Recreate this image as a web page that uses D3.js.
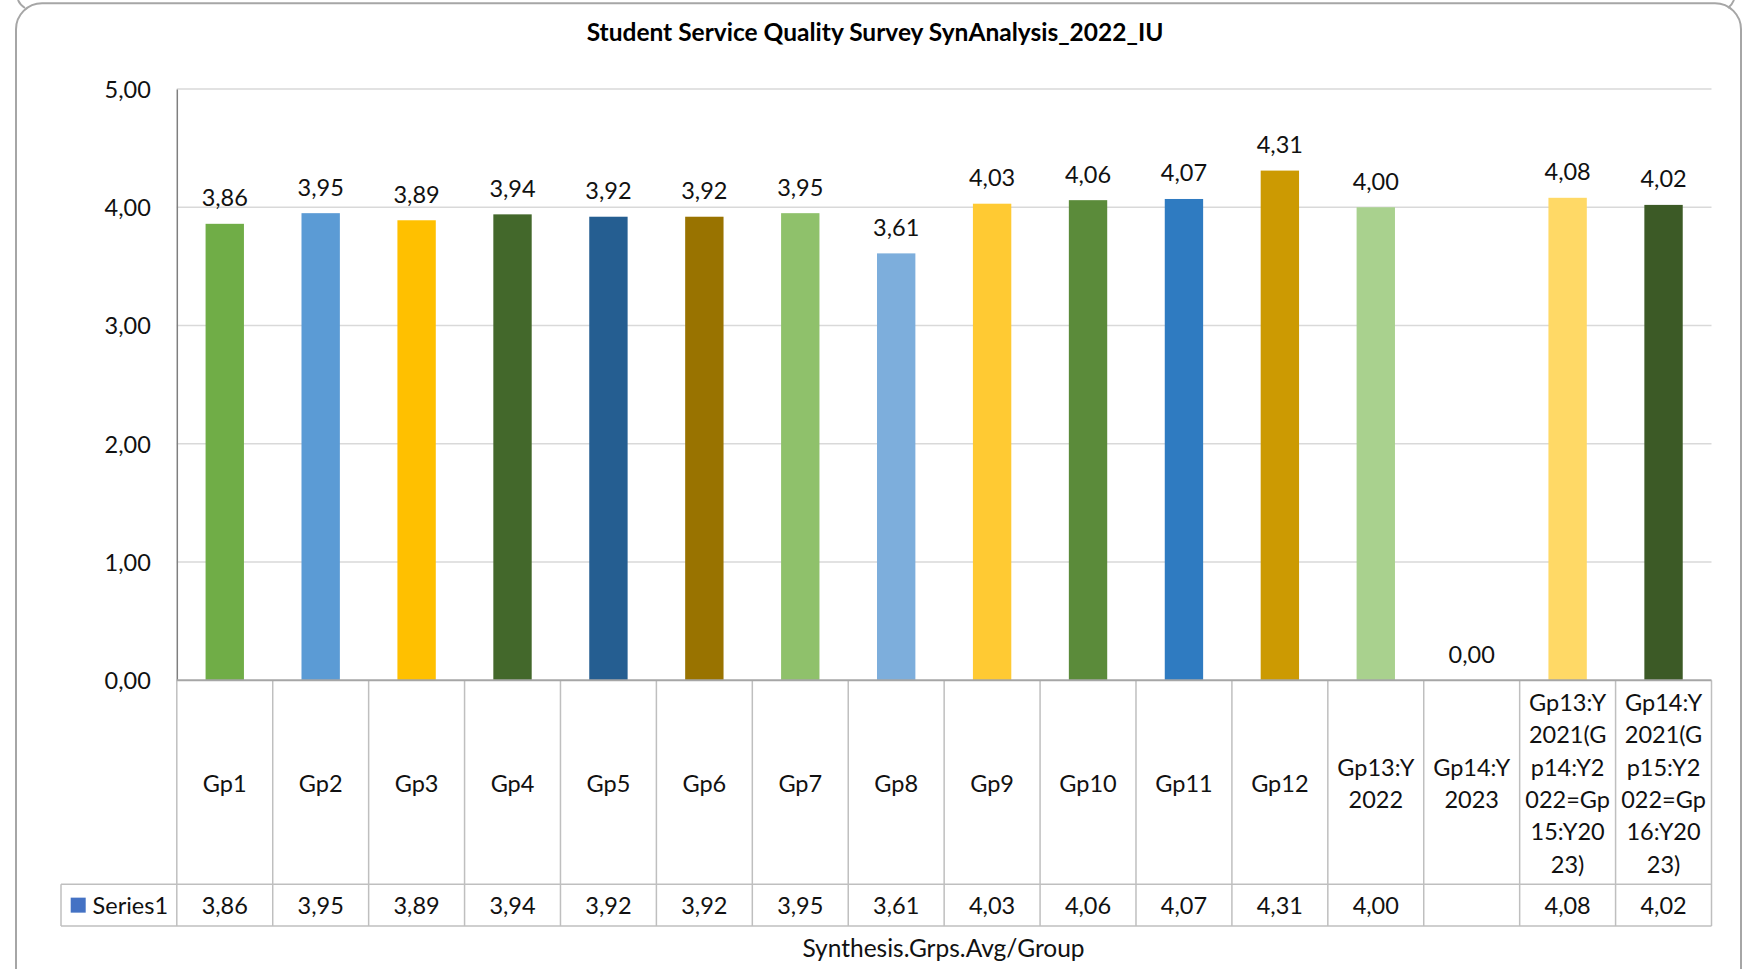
<!DOCTYPE html>
<html>
<head>
<meta charset="utf-8">
<script src="https://cdn.jsdelivr.net/npm/d3@7"></script>
<style>
  html, body { margin: 0; padding: 0; background: #ffffff; }
  svg { display: block; font-family: Lato, "Noto Sans", sans-serif; }
</style>
</head>
<body>
<svg id="chart" width="1757" height="969"></svg>
<script>
// Group averages from the synthesis sheet
const categories = [
  "Gp1", "Gp2", "Gp3", "Gp4", "Gp5", "Gp6", "Gp7", "Gp8", "Gp9", "Gp10", "Gp11", "Gp12",
  "Gp13:Y2022", "Gp14:Y2023",
  "Gp13:Y2021(Gp14:Y2022=Gp15:Y2023)",
  "Gp14:Y2021(Gp15:Y2022=Gp16:Y2023)"
];
const seriesName = "Series1";
const values = [3.86, 3.95, 3.89, 3.94, 3.92, 3.92, 3.95, 3.61, 4.03, 4.06, 4.07, 4.31, 4.00, null, 4.08, 4.02];
const barColors = [
  "#70AD47", "#5B9BD5", "#FFC000", "#43682B", "#255E91", "#997300", "#8FC16B", "#7DAEDC",
  "#FFCA33", "#5B8B3A", "#2F7BC1", "#CC9A02", "#A9D18E", "#A5A5A5", "#FFD966", "#3C5A26"
];
const yTicks = [0, 1, 2, 3, 4, 5];
const chartTitle = "Student Service Quality Survey SynAnalysis_2022_IU";
const axisTitle = "Synthesis.Grps.Avg/Group";

const locale = d3.formatLocale({ decimal: ",", thousands: ".", grouping: [3], currency: ["", ""] });
const fmt = locale.format(".2f");

const svg = d3.select("#chart");
const textColor = "#111";

// Plot area and table geometry
const plotLeft = 176.8, plotRight = 1711.5;
const plotTop = 89, plotBottom = 680.3;
const catRowBottom = 884.3, tableBottom = 926;
const legendLeft = 61;

const x = d3.scaleBand().domain(categories).range([plotLeft, plotRight]).paddingInner(0.6).paddingOuter(0.3);
const y = d3.scaleLinear().domain([0, 5]).range([plotBottom, plotTop]);
const step = x.step();
const cellLeft = c => x(c) - x.paddingOuter() * step;

// Chart frame with rounded top corners
svg.append("rect")
  .attr("x", 16).attr("y", 3.3).attr("width", 1725).attr("height", 1040)
  .attr("rx", 26).attr("ry", 26)
  .attr("fill", "#fff").attr("stroke", "#A6A6A6").attr("stroke-width", 2);
svg.append("path").attr("d", "M18,0 Q20,5 25,8").attr("fill", "none").attr("stroke", "#A6A6A6").attr("stroke-width", 2);
svg.append("path").attr("d", "M1734,0 Q1732,5 1728,8").attr("fill", "none").attr("stroke", "#A6A6A6").attr("stroke-width", 2);

// Title
svg.append("text")
  .attr("x", 875).attr("y", 31.7).attr("dy", "0.36em")
  .attr("text-anchor", "middle")
  .attr("font-size", 24.5).attr("font-weight", "bold").attr("fill", "#000")
  .text(chartTitle);

// Gridlines
svg.append("g")
  .selectAll("line").data(yTicks.filter(t => t > 0)).join("line")
  .attr("x1", plotLeft).attr("x2", plotRight)
  .attr("y1", d => y(d)).attr("y2", d => y(d))
  .attr("stroke", "#D9D9D9").attr("stroke-width", 1.5);

// Y axis
const yAxis = svg.append("g")
  .attr("transform", `translate(${plotLeft},0)`)
  .call(d3.axisLeft(y).tickValues(yTicks).tickFormat(fmt).tickSize(0).tickPadding(26));
yAxis.select(".domain").attr("stroke", "#7F7F7F").attr("stroke-width", 1.5);
yAxis.selectAll("text")
  .attr("font-size", 23.5).attr("fill", textColor)
  .attr("font-family", "Lato, 'Noto Sans', sans-serif")
  .attr("dy", "0.36em");

// Bars
svg.append("g")
  .selectAll("rect").data(categories).join("rect")
  .attr("x", d => x(d))
  .attr("width", x.bandwidth())
  .attr("y", (d, i) => y(values[i] ?? 0))
  .attr("height", (d, i) => y(0) - y(values[i] ?? 0))
  .attr("fill", (d, i) => barColors[i]);

// Data labels above bars
svg.append("g")
  .selectAll("text").data(categories).join("text")
  .attr("x", d => x(d) + x.bandwidth() / 2)
  .attr("y", (d, i) => y(values[i] ?? 0) - 26)
  .attr("dy", "0.36em")
  .attr("text-anchor", "middle")
  .attr("font-size", 23.5).attr("fill", textColor)
  .text((d, i) => fmt(values[i] ?? 0));

// Data table: grid lines
const tableColor = "#BFBFBF";
const tbl = svg.append("g");
// vertical separators between categories
const edges = categories.map(c => cellLeft(c)).concat([plotRight]);
tbl.selectAll("line.v").data(edges).join("line")
  .attr("class", "v")
  .attr("x1", d => d).attr("x2", d => d)
  .attr("y1", plotBottom).attr("y2", tableBottom)
  .attr("stroke", tableColor).attr("stroke-width", 1.5);
// horizontal rules
tbl.selectAll("line.h").data([catRowBottom, tableBottom]).join("line")
  .attr("class", "h")
  .attr("x1", legendLeft).attr("x2", plotRight)
  .attr("y1", d => d).attr("y2", d => d)
  .attr("stroke", tableColor).attr("stroke-width", 1.5);
tbl.append("line")
  .attr("x1", legendLeft).attr("x2", legendLeft)
  .attr("y1", catRowBottom).attr("y2", tableBottom)
  .attr("stroke", tableColor).attr("stroke-width", 1.5);

// X axis baseline
svg.append("line")
  .attr("x1", plotLeft).attr("x2", plotRight)
  .attr("y1", y(0)).attr("y2", y(0))
  .attr("stroke", "#A6A6A6").attr("stroke-width", 2);

// Category labels, wrapped into six-character lines
const wrap = s => s.match(/.{1,6}/g);
const lineH = 32.3;
const catMid = (plotBottom + catRowBottom) / 2 + 1;
tbl.selectAll("text.cat").data(categories).join("text")
  .attr("class", "cat")
  .attr("text-anchor", "middle")
  .attr("font-size", 23.5).attr("fill", textColor)
  .each(function (d) {
    const lines = wrap(d);
    const t = d3.select(this);
    const cx = x(d) + x.bandwidth() / 2;
    lines.forEach((ln, k) => {
      t.append("tspan")
        .attr("x", cx)
        .attr("y", catMid + (k - (lines.length - 1) / 2) * lineH)
        .attr("dy", "0.36em")
        .text(ln);
    });
  });

// Value row
const valMid = (catRowBottom + tableBottom) / 2;
tbl.selectAll("text.val").data(categories).join("text")
  .attr("class", "val")
  .attr("x", d => x(d) + x.bandwidth() / 2)
  .attr("y", valMid).attr("dy", "0.36em")
  .attr("text-anchor", "middle")
  .attr("font-size", 23.5).attr("fill", textColor)
  .text((d, i) => values[i] == null ? "" : fmt(values[i]));

// Legend key in the table
tbl.append("rect")
  .attr("x", 70.7).attr("y", valMid - 7.5).attr("width", 15).attr("height", 15)
  .attr("fill", "#4472C4");
tbl.append("text")
  .attr("x", 92.6).attr("y", valMid).attr("dy", "0.36em")
  .attr("font-size", 23.5).attr("fill", textColor)
  .text(seriesName);

// Axis title
svg.append("text")
  .attr("x", 943.5).attr("y", 948).attr("dy", "0.36em")
  .attr("text-anchor", "middle")
  .attr("font-size", 24.5).attr("fill", textColor)
  .text(axisTitle);
</script>
</body>
</html>
